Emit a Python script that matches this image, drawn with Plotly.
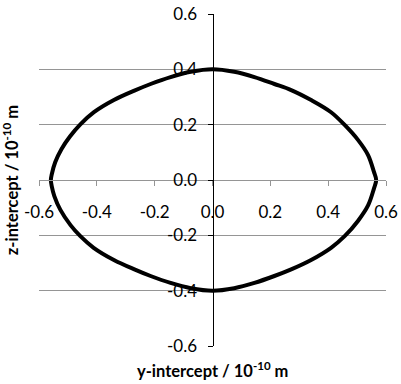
import plotly.graph_objects as go

# Closed curve (y-intercept, z-intercept), units of 1e-10 m
y_intercept = [0.0, -0.075, -0.145, -0.214, -0.27, -0.341, -0.41, -0.457, -0.493, -0.522, -0.544, -0.556, -0.559,
               -0.556, -0.547, -0.526, -0.491, -0.457, -0.411, -0.341, -0.27, -0.214, -0.145, -0.075, 0.0,
               0.075, 0.145, 0.214, 0.272, 0.341, 0.41, 0.457, 0.503, 0.538, 0.558, 0.566,
               0.558, 0.538, 0.503, 0.457, 0.41, 0.341, 0.272, 0.214, 0.145, 0.075, 0.0]
z_intercept = [0.400, 0.391, 0.372, 0.347, 0.323, 0.289, 0.245, 0.201, 0.157, 0.112, 0.064, 0.02, 0.0,
               -0.022, -0.058, -0.108, -0.163, -0.203, -0.245, -0.289, -0.323, -0.347, -0.372, -0.391, -0.40,
               -0.391, -0.372, -0.347, -0.323, -0.289, -0.245, -0.203, -0.148, -0.092, -0.032, 0.0,
               0.030, 0.090, 0.145, 0.199, 0.245, 0.289, 0.325, 0.347, 0.372, 0.391, 0.40]

tick_vals = [-0.6, -0.4, -0.2, 0.0, 0.2, 0.4, 0.6]
tick_text = ["-0.6", "-0.4", "-0.2", "0.0", "0.2", "0.4", "0.6"]

x_title = "<b>y-intercept / 10<sup>-10</sup> m</b>"
y_title = "<b>z-intercept / 10<sup>-10</sup> m</b>"

FONT = "Lato, Carlito, 'Open Sans', sans-serif"
GRID = "#959595"

fig = go.Figure()
fig.add_trace(go.Scatter(
    x=y_intercept, y=z_intercept, mode="lines",
    line=dict(color="black", width=4, shape="spline", smoothing=1.0),
    hoverinfo="skip", showlegend=False,
))

fig.update_layout(
    width=401, height=384,
    margin=dict(l=39, r=15, t=14, b=38, autoexpand=False),
    paper_bgcolor="white", plot_bgcolor="white",
    font=dict(family=FONT, size=17, color="black"),
    xaxis=dict(
        range=[-0.6, 0.6], tickvals=tick_vals, ticktext=tick_text,
        showgrid=False, zeroline=False,
        showline=True, linecolor=GRID, linewidth=1,
        ticks="outside", tickcolor=GRID, ticklen=5, tickwidth=1,
        anchor="free", position=0.5, ticklabelstandoff=12,
        automargin=False, fixedrange=True,
    ),
    yaxis=dict(
        range=[-0.6, 0.6], tickvals=tick_vals, ticktext=tick_text,
        showgrid=True, gridcolor=GRID, gridwidth=1, zeroline=False,
        showline=True, linecolor="black", linewidth=1.5,
        ticks="outside", tickcolor="black", ticklen=5, tickwidth=1,
        anchor="free", position=0.5, ticklabelstandoff=7,
        automargin=False, fixedrange=True,
    ),
    annotations=[
        dict(text=x_title, xref="paper", yref="paper", x=0.5, y=-0.073,
             xanchor="center", yanchor="middle", showarrow=False,
             font=dict(family=FONT, size=16.5, color="black")),
        dict(text=y_title, xref="paper", yref="paper", x=-0.08, y=0.5,
             xanchor="center", yanchor="middle", showarrow=False, textangle=-90,
             font=dict(family=FONT, size=16.5, color="black")),
    ],
)

fig.write_html(
    "out.html",
    config={"displayModeBar": False, "staticPlot": True},
    post_script="document.body.style.margin='0px';document.body.style.padding='0px';",
)
